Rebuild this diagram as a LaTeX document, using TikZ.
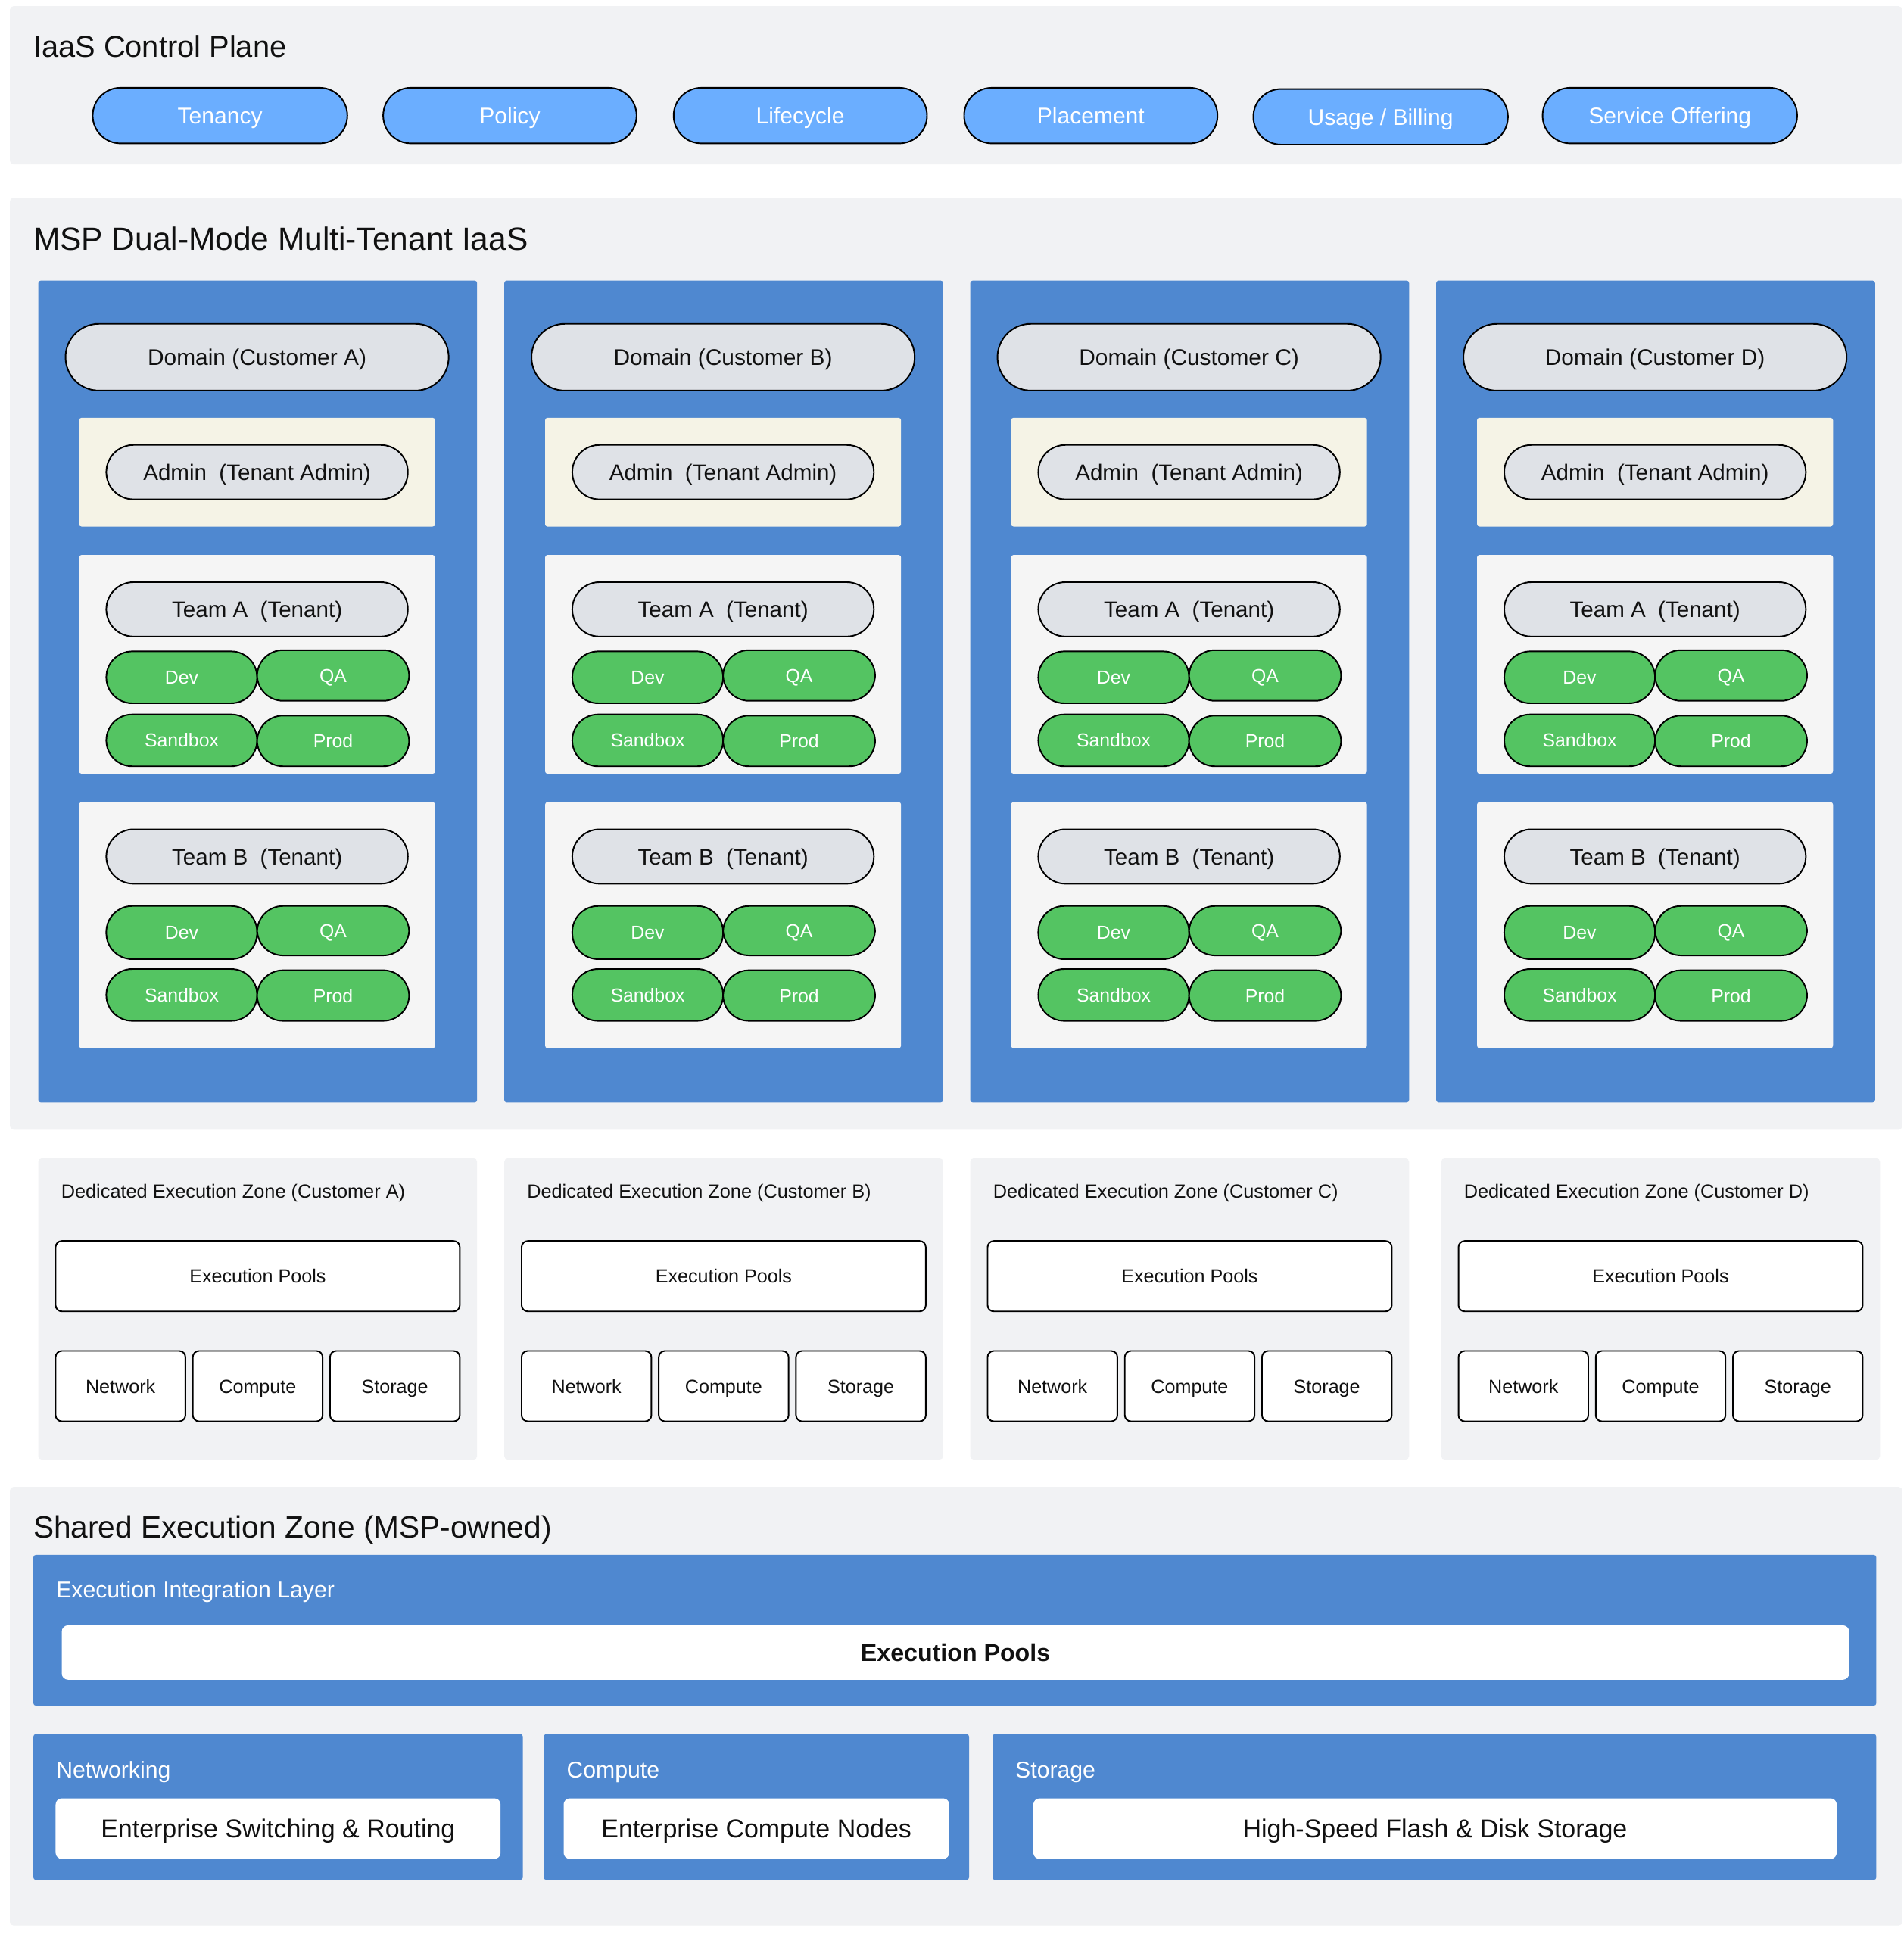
\documentclass[tikz,border=0pt]{standalone}
\usepackage{fontspec}
\setmainfont{Liberation Sans}
\definecolor{panelgrey}{HTML}{F1F2F4}
\definecolor{colblue}{HTML}{4F88D0}
\definecolor{pillblue}{HTML}{6BAEFF}
\definecolor{domgrey}{HTML}{DFE2E7}
\definecolor{creambg}{HTML}{F5F3E6}
\definecolor{teamgrey}{HTML}{F5F5F5}
\definecolor{envgreen}{HTML}{54C462}
\definecolor{ink}{HTML}{111111}
\newcommand\setfs[1]{\fontsize{#1}{#1}\selectfont}
\newcommand\bx[7][]{\node[#1, minimum width={(#5)-(#3)}, minimum height={(#6)-(#4)}] (#2) at ({((#3)+(#5))/2},{((#4)+(#6))/2}) {#7};}
\tikzset{
  every node/.style={inner sep=0pt, outer sep=0pt, text depth=0pt},
  panel/.style={fill=panelgrey, rounded corners=3pt},
  colbox/.style={fill=colblue, rounded corners=2pt},
  adminbg/.style={fill=creambg, rounded corners=2pt},
  teamback/.style={fill=teamgrey, rounded corners=2pt},
  title/.style={anchor=west, text=ink, font=\setfs{25}, text height=17.9pt},
  cppill/.style={fill=pillblue, draw=black, line width=1.2pt, rounded corners=22.5pt, text=white, font=\setfs{18.4}, text height=13.2pt},
  domainpill/.style={fill=domgrey, draw=black, line width=1.2pt, rounded corners=27pt, text=ink, font=\setfs{18.3}, text height=13.1pt},
  greypill/.style={fill=domgrey, draw=black, line width=1.2pt, rounded corners=22pt, text=ink, font=\setfs{18.1}, text height=13pt},
  envpill/.style={fill=envgreen, draw=black, line width=1.2pt, rounded corners=21pt, text=white, font=\setfs{15.2}, text height=10.9pt},
  zonetitle/.style={anchor=west, text=ink, font=\setfs{15.5}, text height=11.1pt},
  whitebox/.style={fill=white, draw=black, line width=1.2pt, rounded corners=5pt, text=ink, font=\setfs{15.4}, text height=11pt},
  blabel/.style={anchor=west, text=white, font=\setfs{18.5}, text height=13.2pt},
  bigwhite/.style={fill=white, rounded corners=5pt, text=ink, font=\setfs{20.8}, text height=14.9pt},
}
\begin{document}
\begin{tikzpicture}[x=1pt,y=-1pt]
\useasboundingbox (0,0) rectangle (1540,1568);
\fill[white] (0,0) rectangle (1540,1568);

% ---------- IaaS Control Plane ----------
\bx[panel]{cp}{8}{5}{1539}{133}{}
\node[title, font=\setfs{24.4}, text height=17.5pt] (cpT) at (27,37.5) {IaaS Control Plane};
\bx[cppill]{pTen}{75}{71}{281}{116}{Tenancy}
\bx[cppill]{pPol}{310}{71}{515}{116}{Policy}
\bx[cppill]{pLif}{545}{71}{750}{116}{Lifecycle}
\bx[cppill]{pPla}{780}{71}{985}{116}{Placement}
\bx[cppill]{pUsa}{1014}{72}{1220}{117}{Usage / Billing}
\bx[cppill]{pSer}{1248}{71}{1454}{116}{Service Offering}

% ---------- MSP Dual-Mode Multi-Tenant IaaS ----------
\bx[panel]{msp}{8}{160}{1539}{914}{}
\node[title, font=\setfs{26}, text height=18.6pt] (mspT) at (27,193) {MSP Dual-Mode Multi-Tenant IaaS};
\foreach \L [count=\i from 0] in {A,B,C,D}{
  \pgfmathsetmacro\x{31+377*\i}
  \bx[colbox]{col\L}{\x}{227}{\x+355}{892}{}
  \bx[domainpill]{dom\L}{\x+22}{262}{\x+332}{316}{Domain (Customer \L)}
  \bx[adminbg]{adm\L}{\x+33}{338}{\x+321}{426}{}
  \bx[greypill]{admp\L}{\x+55}{360}{\x+299}{404}{Admin\ \ (Tenant Admin)}
  \bx[teamback]{ta\L}{\x+33}{449}{\x+321}{626}{}
  \bx[greypill]{tap\L}{\x+55}{471}{\x+299}{515}{Team A\ \ (Tenant)}
  \bx[envpill]{taDev\L}{\x+55}{527}{\x+177}{569}{Dev}
  \bx[envpill]{taQA\L}{\x+177}{526}{\x+300}{567}{QA}
  \bx[envpill]{taSbx\L}{\x+55}{578}{\x+177}{620}{Sandbox}
  \bx[envpill]{taPrd\L}{\x+177}{579}{\x+300}{620}{Prod}
  \bx[teamback]{tb\L}{\x+33}{649}{\x+321}{848}{}
  \bx[greypill]{tbp\L}{\x+55}{671}{\x+299}{715}{Team B\ \ (Tenant)}
  \bx[envpill]{tbDev\L}{\x+55}{733}{\x+177}{776}{Dev}
  \bx[envpill]{tbQA\L}{\x+177}{733}{\x+300}{773}{QA}
  \bx[envpill]{tbSbx\L}{\x+55}{784}{\x+177}{826}{Sandbox}
  \bx[envpill]{tbPrd\L}{\x+177}{785}{\x+300}{826}{Prod}
}

% ---------- Dedicated Execution Zones ----------
\foreach \L/\x in {A/31,B/408,C/785,D/1166}{
  \bx[panel]{dz\L}{\x}{937}{\x+355}{1181}{}
  \node[zonetitle] (dzT\L) at (\x+18.5,964) {Dedicated Execution Zone (Customer \L)};
  \bx[whitebox]{dzEP\L}{\x+14}{1004}{\x+341}{1061}{Execution Pools}
  \bx[whitebox]{dzN\L}{\x+14}{1093}{\x+119}{1150}{Network}
  \bx[whitebox]{dzC\L}{\x+125}{1093}{\x+230}{1150}{Compute}
  \bx[whitebox]{dzS\L}{\x+236}{1093}{\x+341}{1150}{Storage}
}

% ---------- Shared Execution Zone ----------
\bx[panel]{sh}{8}{1203}{1539}{1558}{}
\node[title, font=\setfs{24.9}, text height=17.8pt] (shT) at (27,1235.5) {Shared Execution Zone (MSP-owned)};
\bx[colbox]{eil}{27}{1258}{1518}{1380}{}
\node[blabel] (eilT) at (45.5,1286) {Execution Integration Layer};
\bx[bigwhite, font=\setfs{19.7}\bfseries, text height=14.2pt]{eilP}{50}{1315}{1496}{1359}{Execution Pools}

\bx[colbox]{netB}{27}{1403}{423}{1521}{}
\node[blabel] (netT) at (45.5,1432) {Networking};
\bx[bigwhite]{netW}{45}{1455}{405}{1504}{Enterprise Switching \& Routing}

\bx[colbox]{cmpB}{440}{1403}{784}{1521}{}
\node[blabel] (cmpT) at (458.5,1432) {Compute};
\bx[bigwhite]{cmpW}{456}{1455}{768}{1504}{Enterprise Compute Nodes}

\bx[colbox]{stoB}{803}{1403}{1518}{1521}{}
\node[blabel] (stoT) at (821.5,1432) {Storage};
\bx[bigwhite]{stoW}{836}{1455}{1486}{1504}{High-Speed Flash \& Disk Storage}
\end{tikzpicture}
\end{document}
